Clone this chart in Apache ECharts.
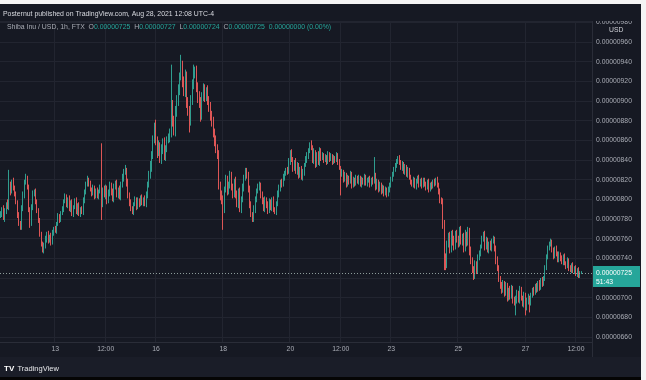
<!DOCTYPE html>
<html><head><meta charset="utf-8">
<script src="https://cdn.jsdelivr.net/npm/echarts@6/dist/echarts.min.js"></script>
<style>html,body{margin:0;padding:0;background:#f4f4f4;}#c{width:646px;height:380px;}</style>
</head><body><div id="c"></div>
<script>
// Prices are stored in units of 0.00000001 USD
const PRICE_UNIT = 1e-8;
const START_UTC = [2021, 7, 11, 9]; // first hourly candle: Aug 11 09:00
const FUTURE_SLOTS = 7;            // empty hours kept at the right edge
const firstOpen = 783;
const closes = [
785,790,781,788,795,792,815,808,818,812,805,798,785,775,772,
790,805,818,822,812,790,775,792,805,808,798,790,778,765,755,748,752,760,765,758,762,756,766,770,
768,775,782,780,786,790,798,802,795,800,790,797,785,792,798,788,794,785,790,787,798,808,815,820,
816,810,806,811,804,809,803,808,812,795,810,804,812,798,806,815,808,800,812,817,805,810,802,815,
822,828,830,818,805,796,790,788,795,800,792,798,795,802,797,800,795,803,815,825,833,845,860,875,
860,848,855,842,850,858,845,852,860,862,868,895,880,870,888,900,912,925,935,920,910,925,900,890,
880,900,918,928,930,915,905,898,885,905,912,905,910,900,895,885,878,868,860,852,845,815,805,800,
790,810,820,808,815,825,812,805,818,805,795,808,790,800,812,822,828,825,810,795,785,780,790,800,
808,812,815,805,798,790,800,795,788,797,792,800,790,787,795,805,812,818,815,822,826,830,828,838,
847,840,832,838,828,835,825,830,822,828,835,840,845,850,855,852,840,848,835,845,838,850,842,845,
840,843,838,846,841,844,838,842,840,845,838,832,825,828,820,825,815,822,818,826,814,820,816,822,
818,822,815,820,817,823,816,819,821,815,820,818,825,812,818,810,815,808,812,806,810,805,810,815,
820,826,830,835,838,842,838,832,836,828,833,825,830,822,818,815,820,813,818,822,815,819,814,820,
815,812,818,810,815,813,818,816,820,815,808,800,798,775,740,735,755,762,750,765,758,752,765,760,
755,768,758,762,750,764,756,768,748,738,728,722,735,728,740,745,752,760,765,752,758,748,755,750,
757,760,750,738,730,720,712,708,715,705,712,700,708,702,710,698,695,698,705,698,708,700,695,703,
690,697,700,695,702,708,705,712,708,715,710,718,714,720,730,742,750,755,757,748,742,750,745,738,
744,740,736,742,735,732,738,730,728,733,727,730,724,728,722,725,725
];
// upper wick above the body, lower wick below the body (same units)
const wickUp = [
3,2,4,3,2,5,15,3,2,4,2,3,1,2,3,
4,3,2,4,2,3,2,3,4,2,3,2,1,3,2,2,4,3,2,3,2,4,3,2,
3,2,4,3,2,3,2,4,3,2,4,2,3,2,3,4,2,3,2,3,4,2,3,4,
2,3,2,4,3,2,3,2,3,45,2,4,3,2,4,3,2,3,4,2,3,2,4,3,
4,3,5,2,3,2,4,3,2,3,2,4,3,2,3,2,4,5,3,4,6,4,5,3,
6,4,5,3,6,4,5,3,4,5,4,42,6,5,7,6,5,4,12,6,5,7,5,4,
5,6,4,9,5,6,4,5,6,4,6,5,4,6,5,4,5,6,4,5,4,5,3,4,
4,3,5,4,3,4,3,4,3,5,4,3,4,3,4,3,4,4,3,4,3,2,4,3,
3,4,3,2,3,4,3,2,3,4,3,2,3,2,3,4,3,2,3,4,3,2,3,4,
3,4,3,2,4,3,2,3,4,3,2,4,3,2,3,5,3,4,2,3,4,3,2,3,
2,3,2,3,2,3,2,3,2,3,2,3,2,3,2,3,2,3,2,3,2,3,2,3,
2,3,2,3,2,3,2,3,2,3,2,3,18,2,3,2,3,2,3,2,3,2,3,2,
3,2,3,2,3,2,3,2,3,2,3,2,3,2,3,2,3,2,3,2,3,2,3,2,
2,3,2,3,2,3,2,3,2,3,2,3,2,3,4,5,3,4,5,3,4,5,3,4,
3,4,5,3,4,5,3,4,3,4,3,4,3,2,4,3,2,3,2,3,4,3,2,3,
3,3,2,3,4,3,2,4,3,2,4,3,2,4,3,2,3,4,3,2,4,3,2,3,
2,3,4,2,3,2,3,2,3,2,3,2,3,2,3,2,3,2,3,2,3,2,3,2,
3,2,3,2,3,2,3,2,3,2,3,2,3,2,3,2,2
];
const wickDown = [
2,3,2,4,3,2,3,4,2,3,2,3,4,2,3,
3,2,4,3,2,3,4,2,3,2,3,4,2,3,3,2,3,2,4,3,2,3,2,3,
2,3,2,4,3,2,3,2,3,4,2,3,2,3,2,3,4,2,3,2,3,2,3,2,
3,2,3,2,4,3,2,3,2,16,3,2,4,3,2,3,4,2,3,2,3,4,2,3,
3,4,3,5,4,3,2,3,4,2,3,2,3,2,3,4,2,3,2,3,4,5,4,3,
5,6,4,5,6,4,5,6,4,3,4,5,6,5,6,4,5,6,4,6,5,6,7,5,
12,5,4,6,5,6,7,5,6,4,5,6,5,4,6,5,4,5,6,5,4,5,6,5,
21,4,3,4,3,4,3,4,3,4,3,4,3,4,3,4,3,4,3,4,3,3,3,4,
3,2,3,4,3,2,3,4,3,2,3,4,3,2,3,2,3,4,3,2,3,2,3,2,
3,2,4,3,2,3,4,3,2,3,4,2,3,4,3,2,3,4,3,2,3,4,3,2,
3,2,3,2,3,2,3,2,3,2,3,2,21,2,3,2,3,2,3,2,3,2,3,2,
2,3,2,3,2,3,2,3,2,3,2,3,2,3,2,3,2,3,2,3,2,3,2,3,
3,2,3,2,3,2,3,2,3,2,3,2,3,2,3,2,3,2,3,2,3,2,3,2,
2,3,2,3,2,3,2,3,2,3,3,4,3,5,12,7,5,4,5,4,5,4,3,4,
4,3,4,5,4,3,4,3,5,4,3,4,3,4,3,2,3,2,3,4,3,2,3,2,
3,2,3,4,3,4,3,4,3,4,3,4,3,4,3,4,3,13,4,3,4,3,4,5,
8,3,4,10,3,2,3,2,3,2,3,2,3,2,3,2,3,2,3,2,3,2,3,2,
2,3,2,3,2,3,2,3,2,3,2,3,2,3,2,2,1
];
const tickTimes = ['2021-08-13 00:00','2021-08-14 12:00','2021-08-16 00:00','2021-08-18 00:00','2021-08-20 00:00',
                   '2021-08-21 12:00','2021-08-23 00:00','2021-08-25 00:00','2021-08-27 00:00','2021-08-28 12:00'];
const tickLabels = ['13','12:00','16','18','20','12:00','23','25','27','12:00'];
const yMinUnits = 654.9, yMaxUnits = 981.4, yStepUnits = 20;
const countdown = '51:43';
const titleLine = 'Posternut published on TradingView.com, Aug 28, 2021 12:08 UTC-4';
const symbolLine = 'Shiba Inu / USD, 1h, FTX';

const FONT = "'Liberation Sans', Arial, sans-serif";
const UP = '#2f9d8f', DOWN = '#dd5656';
const pad = n => String(n).padStart(2, '0');
const t0 = Date.UTC(START_UTC[0], START_UTC[1], START_UTC[2], START_UTC[3]);
const cats = [];
for (let k = 0; k < closes.length + FUTURE_SLOTS; k++) {
  const d = new Date(t0 + k * 3600e3);
  cats.push(`${d.getUTCFullYear()}-${pad(d.getUTCMonth() + 1)}-${pad(d.getUTCDate())} ${pad(d.getUTCHours())}:00`);
}
const tickMap = {}; tickTimes.forEach((t, i) => tickMap[t] = tickLabels[i]);
const isTick = (i, v) => Object.prototype.hasOwnProperty.call(tickMap, v);

const ohlc = closes.map((c, i) => {
  const o = i === 0 ? firstOpen : closes[i - 1];
  const h = Math.max(o, c) + wickUp[i];
  const l = Math.min(o, c) - wickDown[i];
  return { o, h, l, c };
});
const data = ohlc.map(q => [q.o * PRICE_UNIT, q.c * PRICE_UNIT, q.l * PRICE_UNIT, q.h * PRICE_UNIT]);
const last = ohlc[ohlc.length - 1];
const fmt = u => (u * PRICE_UNIT).toFixed(8);
const chg = last.c - last.o;

const staticGraphics = [
  { id: 'hdr', type: 'rect', z: 100, shape: { x: 0, y: 0, width: 646, height: 21 }, style: { fill: '#161923' } },
  { id: 'topw', type: 'rect', z: 101, shape: { x: 0, y: 0, width: 646, height: 4 }, style: { fill: '#f4f4f4' } },
  { id: 'rightw', type: 'rect', z: 101, shape: { x: 641, y: 0, width: 5, height: 380 }, style: { fill: '#f4f4f4' } },
  { id: 'foot', type: 'rect', z: 99, shape: { x: 0, y: 357, width: 641, height: 20 }, style: { fill: '#1a1d28' } },
  { id: 'footb', type: 'rect', z: 101, shape: { x: 0, y: 377, width: 641, height: 3 }, style: { fill: '#050505' } },
  { id: 'axsep', type: 'line', z: 99, shape: { x1: 592.5, y1: 342, x2: 592.5, y2: 357 }, style: { stroke: '#2a2d38', lineWidth: 1 } },
  { id: 't1', type: 'text', z: 102, x: 3, y: 11, style: { text: titleLine, fill: '#d8dae0', fontSize: 6.9, fontFamily: FONT } },
  { id: 't2', type: 'text', z: 102, x: 7, y: 24, style: {
      text: `{n|${symbolLine}}  {k|O}{v|${fmt(last.o)}}  {k|H}{v|${fmt(last.h)}}  {k|L}{v|${fmt(last.l)}}  {k|C}{v|${fmt(last.c)}}  {v|${fmt(chg)} (${(chg / last.o * 100).toFixed(2)}%)}`,
      fontSize: 6.9, fontFamily: FONT,
      rich: { n: { fill: '#a9acb5', fontSize: 6.9, fontFamily: FONT }, k: { fill: '#a9acb5', fontSize: 6.9, fontFamily: FONT }, v: { fill: '#26a69a', fontSize: 6.9, fontFamily: FONT } }
    } },
  { id: 'usd', type: 'text', z: 102, x: 609, y: 27, style: { text: 'USD', fill: '#d0d2d8', fontSize: 6.8, fontFamily: FONT } },
  { id: 'logo', type: 'text', z: 102, x: 4, y: 363, style: { text: '{b|TV} {t|TradingView}', rich: { b: { fill: '#ffffff', fontSize: 8, fontWeight: 'bold', fontFamily: FONT }, t: { fill: '#e6e7ea', fontSize: 7.5, fontFamily: FONT } } } }
];

const chart = echarts.init(document.getElementById('c'), null, { renderer: 'canvas' });
chart.setOption({
  animation: false,
  backgroundColor: '#161923',
  grid: { left: 0, right: 54, top: 21, bottom: 38 },
  xAxis: {
    type: 'category', data: cats, boundaryGap: true,
    axisLine: { show: true, lineStyle: { color: '#2a2d38' } },
    axisTick: { show: false },
    axisLabel: { interval: isTick, formatter: v => tickMap[v] || '', color: '#a9acb5', fontSize: 6.8, margin: 4, fontFamily: FONT },
    splitLine: { show: true, interval: isTick, lineStyle: { color: '#222530', width: 1 } }
  },
  yAxis: {
    type: 'value', position: 'right', scale: true,
    min: yMinUnits * PRICE_UNIT, max: yMaxUnits * PRICE_UNIT,
    minInterval: yStepUnits * PRICE_UNIT, maxInterval: yStepUnits * PRICE_UNIT, splitNumber: 16,
    axisLine: { show: true, lineStyle: { color: '#2a2d38' } },
    axisTick: { show: false },
    axisLabel: { formatter: v => v.toFixed(8), showMinLabel: false, showMaxLabel: false, color: '#a9acb5', fontSize: 6.8, margin: 4, fontFamily: FONT },
    splitLine: { show: true, lineStyle: { color: '#222530', width: 1 } }
  },
  series: [{
    type: 'candlestick', data, barWidth: 0.4,
    itemStyle: { color: UP, color0: DOWN, borderColor: UP, borderColor0: DOWN, borderWidth: 1 }
  }],
  graphic: staticGraphics
});

// last-price line and label, placed through the chart's own value axis
const py = Math.round(chart.convertToPixel({ yAxisIndex: 0 }, last.c * PRICE_UNIT)) + 0.5;
const gridRight = chart.convertToPixel({ xAxisIndex: 0 }, cats[cats.length - 1]) + 0.7;
chart.setOption({
  graphic: staticGraphics.concat([
    { id: 'pline', type: 'line', z: 50, shape: { x1: 0, y1: py, x2: gridRight, y2: py }, style: { stroke: '#8c9c9a', lineWidth: 1, lineDash: [1, 2] } },
    { id: 'pbox', type: 'rect', z: 103, shape: { x: gridRight + 1, y: py - 7.5, width: 47, height: 21 }, style: { fill: '#26a69a' } },
    { id: 'ptxt', type: 'text', z: 104, x: gridRight + 4, y: py - 5, style: { text: fmt(last.c) + '\n' + countdown, fill: '#ffffff', fontSize: 6.8, lineHeight: 9, fontFamily: FONT } }
  ])
});
</script>
</body></html>
